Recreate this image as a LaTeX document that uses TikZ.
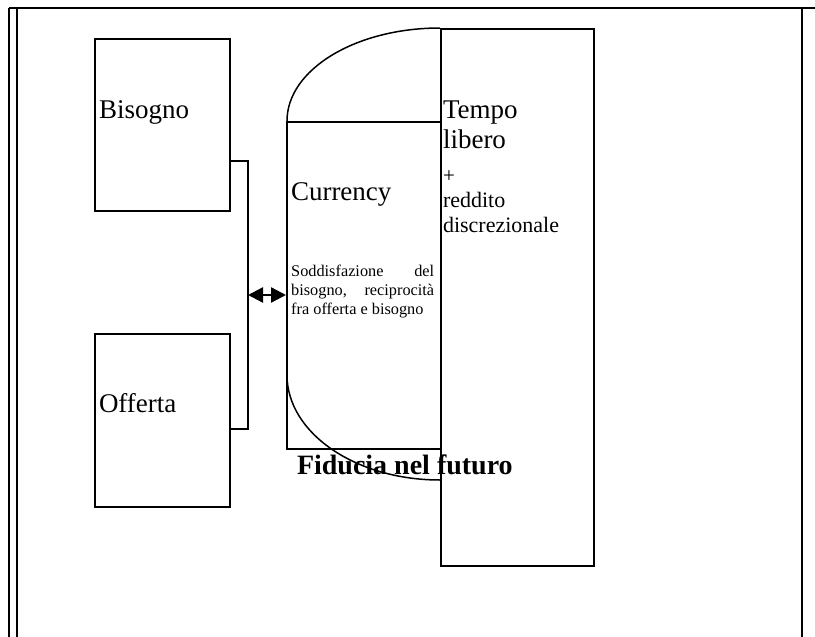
\documentclass[tikz,border=0pt]{standalone}
\usepackage{fontspec}
\setmainfont{Liberation Serif}
\usetikzlibrary{arrows.meta}
\begin{document}
\begin{tikzpicture}[x=1pt,y=-1pt,
  boxline/.style={draw=black,line width=2.4pt},
  frameline/.style={draw=black,line width=1.8pt},
  lbl/.style={anchor=base west,inner sep=0pt,outer sep=0pt},
  big/.style={font=\fontsize{27}{30}\selectfont}]
\useasboundingbox (0,0) rectangle (815,637);
% outer frame
\draw[frameline] (9,8) -- (815,8);
\draw[frameline] (9,8) -- (9,637);
\draw[frameline] (17,8) -- (17,637);
\draw[frameline] (802,8) -- (802,637);
% rounded shape behind
\draw[line width=1.5pt] (440,28) .. controls (355.5,28) and (287,69.6) .. (287,121)
  -- (287,375) .. controls (287,433) and (355.5,480) .. (440,480);
% boxes
\node[boxline,minimum width=135pt,minimum height=172pt,inner sep=0pt,anchor=north west] (bis) at (94,38) {};
\node[boxline,minimum width=135pt,minimum height=173pt,inner sep=0pt,anchor=north west] (off) at (94,333) {};
\node[boxline,minimum width=154pt,minimum height=327pt,inner sep=0pt,anchor=north west] (cur) at (286,121) {};
\node[boxline,minimum width=153pt,minimum height=537pt,inner sep=0pt,anchor=north west] (tem) at (440,28) {};
% connector
\coordinate (j1) at (248,161);
\coordinate (j2) at (248,429);
\coordinate (jm) at (248,295);
\draw[boxline] (bis.east |- j1) -- (j1) -- (j2) -- (off.east |- j2);
\draw[line width=2.4pt,{Triangle[length=15pt,width=15pt]}-{Triangle[length=15pt,width=15pt]}] (jm) -- (cur.west |- jm);
% texts
\node[lbl,big] (tbis) at (99,118) {Bisogno};
\node[lbl,big] (toff) at (99,412) {Offerta};
\node[lbl,big] (tcur) at (291,200) {Currency};
\node[anchor=north west,inner sep=0pt,text width=143pt,align=justify,font=\fontsize{16.3}{19}\selectfont] (tsod) at (291,264.5)
  {Soddisfazione del bisogno, reciprocità fra offerta e bisogno};
\node[lbl,big] (ttem) at (443,118) {Tempo};
\node[lbl,big] (tlib) at (443,148) {libero};
\node[lbl,font=\fontsize{21}{24}\selectfont] (tplus) at (443,182) {+};
\node[lbl,font=\fontsize{22}{24}\selectfont] (tred) at (443,207) {reddito};
\node[lbl,font=\fontsize{22}{24}\selectfont] (tdis) at (443,232) {discrezionale};
\node[lbl,font=\bfseries\fontsize{28}{30}\selectfont] (tfid) at (297,474) {Fiducia nel futuro};
\end{tikzpicture}
\end{document}
